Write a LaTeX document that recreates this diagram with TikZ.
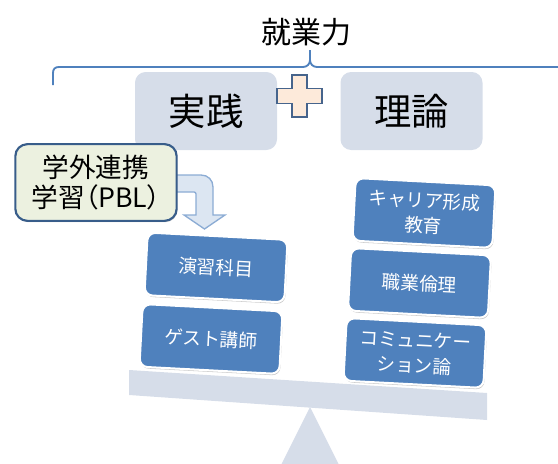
\documentclass[tikz,border=0pt]{standalone}
\usepackage{fontspec}
\setmainfont{Noto Sans CJK JP}
\newfontfamily\paltfont[RawFeature=+palt]{Noto Sans CJK JP}
\usetikzlibrary{shadows}
\definecolor{lightbox}{RGB}{214,221,233}
\definecolor{bracecol}{RGB}{79,129,189}
\definecolor{plusfill}{RGB}{253,234,218}
\definecolor{plusline}{RGB}{70,100,140}
\definecolor{pblfill}{RGB}{236,241,224}
\definecolor{pblline}{RGB}{56,93,138}
\definecolor{arrfill}{RGB}{220,230,242}
\definecolor{arrline}{RGB}{140,172,212}
\definecolor{blockfill}{RGB}{79,129,189}
\tikzset{
  bigbox/.style={fill=lightbox, rounded corners=8pt, minimum width=106.5pt, minimum height=58.5pt, inner sep=0pt, font=\fontsize{28}{32}\selectfont},
  blockbox/.style={fill=blockfill, draw=white, line width=1.5pt, rounded corners=6pt, minimum width=105pt, minimum height=47pt, inner sep=0pt, rotate=-3, text=white, align=center, font=\fontsize{14}{19}\selectfont, drop shadow={shadow xshift=0.6pt, shadow yshift=-1.2pt, opacity=0.35, fill=black!60}},
  pblbox/.style={fill=pblfill, draw=pblline, line width=1.6pt, rounded corners=9pt, minimum width=121pt, minimum height=57.5pt, inner sep=0pt, align=center, font=\fontsize{20}{22.5}\selectfont, drop shadow={shadow xshift=0.6pt, shadow yshift=-1pt, opacity=0.3, fill=black!60}},
  bracestyle/.style={draw=bracecol, line width=1.4pt},
  scalepart/.style={fill=lightbox, draw=none}
}
\begin{document}
\begin{tikzpicture}[x=0.75pt, y=-0.75pt]
\useasboundingbox (0,0) rectangle (558,464);
% title and brace
\node[font=\fontsize{22.5}{26}\selectfont, inner sep=0pt] (title) at (306,32) {就業力};
\coordinate (bl) at (53,85);
\coordinate (cusp) at (310,50);
\coordinate (br) at (560,67);
\draw[bracestyle] (bl) -- (53,73) .. controls (53,69) and (55,67) .. (59,67) -- (303,67) .. controls (307,67) and (310,64) .. (310,60) -- (cusp);
\draw[bracestyle] (310,60) .. controls (310,64) and (313,67) .. (317,67) -- (br);
% top boxes
\node[bigbox] (jissen) at (206,111) {実践};
\node[bigbox] (riron) at (411.5,111) {理論};
% plus
\draw[fill=plusfill, draw=plusline, line width=1.2pt] (292,75) -- (307,75) -- (307,88.5) -- (322,88.5) -- (322,103.5) -- (307,103.5) -- (307,117) -- (292,117) -- (292,103.5) -- (277,103.5) -- (277,88.5) -- (292,88.5) -- cycle;
% bent arrow
\draw[fill=arrfill, draw=arrline, line width=1pt] (170,175) -- (201,175) .. controls (208,175) and (213,180) .. (213,187) -- (213,215) -- (225,215) -- (204.5,229) -- (184,215) -- (196,215) -- (196,194) .. controls (196,193) and (195,192) .. (194,192) -- (170,192) -- cycle;
% PBL box
\node[pblbox] (pbl) at (96,182.5) {学外連携\\{\paltfont 学習（PBL）}};
% beam and fulcrum
\fill[scalepart] (129,370) -- (487,393) -- (487,420) -- (129,395) -- cycle;
\fill[scalepart] (310,407) -- (281,465) -- (339,465) -- cycle;
% blocks
\node[blockbox] (enshu) at (216,267.5) {演習科目};
\node[blockbox] (guest) at (211,339) {ゲスト講師};
\node[blockbox] (career) at (424,213) {キャリア形成\\教育};
\node[blockbox] (rinri) at (419.5,283) {職業倫理};
\node[blockbox] (comm) at (415,353) {コミュニケー\\ション論};
\end{tikzpicture}
\end{document}
